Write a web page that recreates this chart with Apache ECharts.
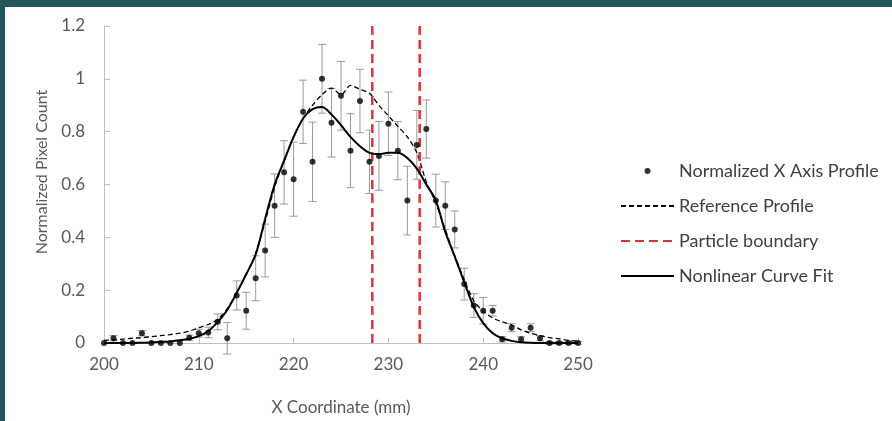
<!DOCTYPE html>
<html>
<head>
<meta charset="utf-8">
<script src="https://cdn.jsdelivr.net/npm/echarts@6/dist/echarts.min.js"></script>
<style>
  html, body { margin: 0; padding: 0; background: #24565e; }
  #chart { position: absolute; left: 5px; top: 7px; width: 887px; height: 414px; background: #ffffff; }
</style>
</head>
<body>
<div id="chart"></div>
<script>
var xCoords = [200, 201, 202, 203, 204, 205, 206, 207, 208, 209,
               210, 211, 212, 213, 214, 215, 216, 217, 218, 219,
               220, 221, 222, 223, 224, 225, 226, 227, 228, 229,
               230, 231, 232, 233, 234, 235, 236, 237, 238, 239,
               240, 241, 242, 243, 244, 245, 246, 247, 248, 249, 250];

var profile = [0, 0.018, 0, 0, 0.037, 0, 0, 0, 0, 0.02,
               0.037, 0.04, 0.08, 0.018, 0.18, 0.122, 0.245, 0.35, 0.52, 0.646,
               0.62, 0.875, 0.686, 1.0, 0.834, 0.936, 0.728, 0.916, 0.686, 0.708,
               0.83, 0.728, 0.539, 0.75, 0.81, 0.539, 0.52, 0.43, 0.223, 0.142,
               0.122, 0.122, 0.014, 0.058, 0.014, 0.058, 0.018, 0, 0, 0, 0];

var profileErr = [0, 0.01, 0, 0, 0.01, 0, 0, 0, 0, 0.01,
                  0.015, 0.02, 0.03, 0.06, 0.055, 0.07, 0.085, 0.1, 0.12, 0.12,
                  0.14, 0.12, 0.15, 0.13, 0.13, 0.13, 0.14, 0.12, 0.12, 0.13,
                  0.12, 0.11, 0.13, 0.13, 0.11, 0.1, 0.09, 0.07, 0.06, 0.045,
                  0.05, 0.02, 0.01, 0.015, 0.01, 0.015, 0.01, 0.005, 0.005, 0.005, 0.005];

var referenceProfile = [0.01, 0.012, 0.015, 0.018, 0.02, 0.024, 0.028, 0.032, 0.037, 0.045,
                        0.058, 0.07, 0.09, 0.13, 0.19, 0.26, 0.34, 0.46, 0.59, 0.69,
                        0.78, 0.85, 0.9, 0.94, 0.965, 0.94, 0.975, 0.96, 0.945, 0.9,
                        0.86, 0.82, 0.78, 0.72, 0.61, 0.53, 0.43, 0.33, 0.24, 0.16,
                        0.12, 0.095, 0.08, 0.068, 0.05, 0.037, 0.028, 0.02, 0.016, 0.01, 0.008];

var curveFit = [0, 0, 0, 0, 0.001, 0.002, 0.004, 0.006, 0.01, 0.016,
                0.026, 0.045, 0.08, 0.125, 0.19, 0.26, 0.335, 0.47, 0.6, 0.69,
                0.78, 0.85, 0.885, 0.893, 0.865, 0.825, 0.78, 0.745, 0.72, 0.715,
                0.72, 0.72, 0.7, 0.66, 0.6, 0.54, 0.42, 0.327, 0.23, 0.137,
                0.075, 0.037, 0.018, 0.008, 0.003, 0.001, 0, 0, 0, 0, 0];

var particleBoundaries = [228.3, 233.3];
var yTop = 1.2;

var textColor = '#595959';
var font = 'Lato, "Open Sans", sans-serif';

function pairs(ys) {
  return xCoords.map(function(x, i) { return [x, ys[i]]; });
}

var chart = echarts.init(document.getElementById('chart'), null, { renderer: 'canvas' });

var boundarySeries = particleBoundaries.map(function(b) {
  return {
    name: 'Particle boundary',
    type: 'line',
    data: [[b, 0], [b, yTop]],
    symbol: 'none',
    lineStyle: { color: '#e0303a', width: 2.5, type: [9, 5] },
    z: 3
  };
});

var hideDot = { opacity: 0 };

chart.setOption({
  animation: false,
  grid: { left: 99, right: 314, top: 19, bottom: 78 },
  graphic: [{
    type: 'text',
    x: 37,
    y: 165,
    rotation: Math.PI / 2,
    style: {
      text: 'Normalized Pixel Count',
      fill: textColor,
      font: '16px Lato, "Open Sans", sans-serif',
      textAlign: 'center',
      textVerticalAlign: 'middle'
    }
  }],
  legend: {
    orient: 'vertical',
    left: 610,
    top: 148,
    itemWidth: 53,
    itemHeight: 6,
    itemGap: 13,
    textStyle: { color: '#404040', fontSize: 18, lineHeight: 22, fontFamily: font },
    data: [
      { name: 'Normalized X Axis Profile', icon: 'circle' },
      { name: 'Reference Profile', itemStyle: hideDot },
      { name: 'Particle boundary', itemStyle: hideDot },
      { name: 'Nonlinear Curve Fit', itemStyle: hideDot }
    ]
  },
  xAxis: {
    type: 'value',
    min: 200,
    max: 250,
    interval: 10,
    name: 'X Coordinate (mm)',
    nameLocation: 'middle',
    nameGap: 56,
    nameTextStyle: { color: textColor, fontSize: 17, fontFamily: font },
    axisLine: { lineStyle: { color: '#bfbfbf', width: 1 } },
    axisTick: { inside: true, length: 5, lineStyle: { color: '#bfbfbf' } },
    axisLabel: { color: textColor, fontSize: 17, margin: 13, fontFamily: font },
    splitLine: { show: false }
  },
  yAxis: {
    type: 'value',
    min: 0,
    max: yTop,
    interval: 0.2,
    axisLine: { show: true, lineStyle: { color: '#bfbfbf', width: 1 } },
    axisTick: { show: true, inside: true, length: 6, lineStyle: { color: '#bfbfbf' } },
    axisLabel: { color: textColor, fontSize: 17, margin: 19, fontFamily: font },
    splitLine: { show: false }
  },
  series: [
    {
      name: 'errors',
      type: 'custom',
      data: xCoords.map(function(x, i) { return [x, profile[i], profileErr[i]]; }),
      encode: { x: 0, y: 1 },
      z: 1,
      renderItem: function(params, api) {
        var x = api.value(0), y = api.value(1), e = api.value(2);
        if (!e) return;
        var top = api.coord([x, y + e]);
        var bot = api.coord([x, y - e]);
        var hw = 4;
        var st = { stroke: '#9a9a9a', lineWidth: 1 };
        return {
          type: 'group',
          children: [
            { type: 'line', shape: { x1: top[0], y1: top[1], x2: bot[0], y2: bot[1] }, style: st },
            { type: 'line', shape: { x1: top[0] - hw, y1: top[1], x2: top[0] + hw, y2: top[1] }, style: st },
            { type: 'line', shape: { x1: bot[0] - hw, y1: bot[1], x2: bot[0] + hw, y2: bot[1] }, style: st }
          ]
        };
      }
    },
    {
      name: 'Reference Profile',
      type: 'line',
      data: pairs(referenceProfile),
      symbol: 'none',
      smooth: 0.3,
      lineStyle: { color: '#000000', width: 1.3, type: [5, 3] },
      z: 2
    }
  ].concat(boundarySeries).concat([
    {
      name: 'Nonlinear Curve Fit',
      type: 'line',
      data: pairs(curveFit),
      symbol: 'none',
      smooth: 0.3,
      lineStyle: { color: '#000000', width: 2 },
      z: 4
    },
    {
      name: 'Normalized X Axis Profile',
      type: 'scatter',
      data: pairs(profile),
      symbol: 'circle',
      symbolSize: 6,
      itemStyle: { color: '#000000' },
      z: 5
    }
  ])
});
</script>
</body>
</html>
